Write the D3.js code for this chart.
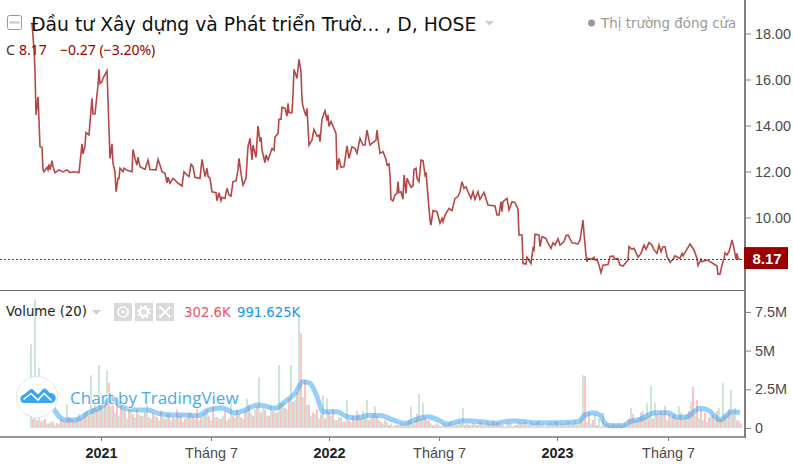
<!DOCTYPE html>
<html>
<head>
<meta charset="utf-8">
<script src="https://cdn.jsdelivr.net/npm/d3@7"></script>
<style>
  html, body { margin: 0; padding: 0; background: #fff; }
  svg { display: block; }
  text { font-family: "DejaVu Sans", sans-serif; }
  .axis text { font-family: "Liberation Sans", Arial, sans-serif; font-size: 14.4px; fill: #4a4a4a; }
  .axis .domain { display: none; }
  .axis .tick line { stroke: #808080; }
</style>
</head>
<body>
<div id="chart"></div>
<script>
// session number = trading days since the first bar
const priceSessions = [
  1, 3, 4, 5, 7, 8, 9, 11, 12, 13,
  16, 17, 18, 19, 21, 22, 24, 28, 32, 36,
  39, 42, 48, 51, 52, 54, 55, 58, 61, 62,
  64, 67, 68, 69, 71, 72, 76, 77, 79, 81,
  82, 84, 85, 87, 88, 89, 92, 93, 97, 101,
  102, 104, 106, 107, 109, 114, 117, 119, 125, 127,
  129, 131, 134, 136, 137, 139, 142, 144, 147, 151,
  153, 156, 158, 160, 162, 164, 169,
  171, 174, 176, 177, 179, 181, 185, 186, 188, 190,
  191, 194, 196, 198, 200, 202, 205, 207, 208, 210,
  212, 215, 217, 219, 221, 222, 225, 227, 229, 230,
  231, 234, 235, 237, 241, 243, 244, 247, 248, 250,
  251, 254, 256, 257, 258, 261, 262, 263, 266, 268,
  270, 271, 272, 275, 276, 278, 281, 283, 286, 288,
  289, 291, 294, 296, 297, 298, 300, 302, 305, 306,
  308, 310, 313, 316, 318, 321, 324, 326, 329, 332,
  334, 336, 339, 345, 346, 347,
  349, 352, 355, 356, 358, 359, 360, 362, 364, 366,
  367, 368, 370, 372, 373, 375, 376, 380, 382, 383,
  385, 386, 388, 390, 392, 394, 395, 397, 399, 400,
  402, 406, 409, 411, 412, 414, 418, 421, 424, 427,
  429, 431, 433, 435, 437, 440, 442, 444, 447, 449,
  453, 457, 464, 466, 468, 470, 471, 472, 476, 478,
  481, 484, 487, 488, 491, 492, 495, 496, 500, 502,
  503, 504, 508, 509, 511, 515, 517, 520, 522, 524,
  527, 529, 533, 535, 537, 541, 544, 547, 549, 552,
  553, 555, 556, 557, 560, 563, 564, 566, 568, 570,
  572, 577, 579, 582, 584, 587, 589, 592, 597, 598,
  601, 603, 605, 607, 610, 613, 615, 618, 621, 623,
  626, 628, 630, 632, 634, 636, 639, 642, 644, 649,
  651, 652, 659, 663, 666, 667, 670, 671, 676, 679,
  682, 686, 687, 689, 691, 693, 694, 696, 698, 701,
  703, 705, 706, 707, 709
];
const priceCloses = [
  18.46, 17.28, 16.41, 14.46, 15.25, 14.24, 13.08, 13.05, 12.07, 11.99,
  12.18, 12.07, 12.31, 12.07, 12.47, 12.21, 11.95, 12.07, 11.98, 12.07,
  11.95, 11.99, 11.95, 13.2, 12.76, 13.11, 13.69, 13.59, 15.18, 14.5,
  14.5, 15.76, 16.44, 15.83, 15.9, 16.05, 16.38, 15.11, 12.57, 13.2,
  12.36, 11.99, 11.12, 11.7, 11.7, 12.14, 11.99, 12.14, 12.04, 11.99,
  12.96, 12.57, 12.28, 12.62, 12.21, 12.09, 12.5, 12.09, 12.07, 12.53,
  12.28, 11.99, 11.92, 11.51, 11.75, 11.49, 11.7, 11.63, 11.49, 11.37,
  11.99, 11.85, 11.78, 12.31, 12.21, 11.75, 11.7,
  12.53, 11.78, 12.14, 11.8, 11.7, 11.12, 11.08, 10.73, 11.08, 10.73,
  10.88, 10.83, 11.27, 10.98, 10.93, 11.56, 11.59, 12.07, 12.57, 11.92,
  11.41, 11.7, 13.08, 13.44, 12.5, 13.15, 12.62, 13.98, 13.3, 13.49,
  12.93, 12.38, 12.72, 12.5, 13.0, 12.93, 13.5, 13.66, 14.27, 14.27,
  14.79, 14.75, 14.41, 14.96, 14.56, 14.56, 15.33, 16.44, 16.05, 16.88,
  16.34, 15.11, 14.82, 14.41, 14.75, 13.15, 13.37, 13.83, 13.54, 13.59,
  13.3, 14.27, 14.64, 14.21, 14.46, 13.96, 14.17, 13.98, 13.66, 12.07,
  12.57, 12.18, 12.21, 13.11, 12.57, 13.08, 13.0, 12.79, 13.44, 13.15,
  13.15, 13.8, 13.15, 13.37, 13.8, 13.4,
  12.79, 12.86, 12.53, 12.28, 12.33, 11.85, 10.79, 10.72, 10.98, 11.05,
  11.56, 11.08, 11.12, 10.79, 11.85, 11.05, 11.7, 11.31, 11.37, 12.09,
  12.14, 11.7, 11.56, 12.5, 12.47, 11.85, 11.96, 10.91, 9.89, 9.67,
  10.3, 10.25, 9.75, 9.96, 9.82, 10.11, 10.4, 10.3, 10.83, 10.91,
  11.12, 11.56, 11.27, 11.34, 11.12, 10.83, 11.12, 10.79, 11.12, 10.79,
  11.09, 10.54, 10.5, 10.11, 10.11, 10.69, 10.25, 10.69, 10.83, 10.33,
  10.69, 10.65, 10.36, 9.24, 9.24, 8.0, 7.98, 8.27, 8.0, 8.66,
  8.59, 9.27, 9.24, 8.73, 9.17, 9.09, 8.88, 8.66, 8.9, 8.8,
  9.07, 8.8, 8.95, 9.21, 9.24, 8.9, 8.88, 8.85, 9.02, 9.89,
  9.31, 8.37, 8.08, 8.22, 8.18, 8.27, 8.15, 8.18, 7.93, 7.6,
  7.93, 7.96, 8.3, 8.33, 8.18, 8.22, 7.93, 7.89, 8.15, 8.73,
  8.62, 8.66, 8.47, 8.27, 8.44, 8.8, 8.62, 8.91, 8.8, 8.59,
  8.44, 8.8, 8.51, 8.73, 8.73, 8.3, 8.05, 8.18, 8.33, 8.22,
  8.44, 8.33, 8.85, 8.59, 8.22, 7.91, 8.18, 8.08, 8.15, 8.08,
  8.0, 7.89, 7.54, 7.54, 7.93, 8.22, 8.47, 8.37, 8.51, 9.02,
  8.66, 8.18, 8.44, 8.22, 8.17
];

// volumes in millions, sampled every 4 sessions (down days sit 2 sessions after up days)
const upVolumes = [
  5.4, 8.3, 3.9, .5, .3, .4, .2, .3, .5, 1.5,
  .6, .4, .9, .7, 1.1, 3.4, 1.6, 4.07, 1.2, 3.7,
  1.4, 1.0, .8, 1.2, .6, 1.1, .7, .9, .8, 1.5,
  .6, .8, .5, .7, .9, .5, .6, .8, .4, .7,
  1.0, .6, .5, .9, 1.2, .5, .7, .6, .8, .5,
  1.9, .7, .9, .6, 1.9, 1.0, 1.2, 3.3, 1.3, .8,
  1.4, 1.0, 4.07, 1.6, 1.2, 4.07, 1.8, 7.4, 2.0, 1.5,
  .8, .9, .6, 2.1, 1.9, .8, .5, .7, .4, 1.8,
  .4, .5, .9, 1.1, 1.8, .6, 1.4, .5, .3, .4,
  .3, .2, .2, .3, .4, 1.4, .5, 2.2, 1.6, .5,
  .3, .2, .2, .3, .2, .4, .3, .5, 1.3, .3,
  .2, .3, .4, .3, .4, .2, .3, .4, .2, .3,
  .3, .2, .4, .3, .2, .4, .3, .5, .3, .2,
  .3, .4, .2, .3, .4, .2, .5, .3, 3.4, .4,
  .3, .9, .6, 1.0, .3, .2, .2, .3, .2, .2,
  1.3, .5, .7, 1.1, 1.6, 2.7, 1.6, .8, .9, .5,
  .7, .9, 1.4, .6, .9, 1.7, .8, .6, .5, .4,
  .8, .5, 1.3, 2.9, .9, 2.45, 1.3, .5
];
const downVolumes = [
  .6, .5, .4, .6, .3, .4, .3, .6, .4, .7,
  .5, .7, .6, 1.0, .8, 1.3, 1.2, 1.5, 1.7, 2.9,
  1.6, 2.0, 1.5, 1.1, 1.3, .9, 1.2, .8, 1.0, .7,
  1.0, .7, 1.1, .6, .9, .7, 1.2, .8, .6, 1.0,
  .8, 1.3, .7, 1.0, .8, 1.4, .7, .6, 1.1, .6,
  .8, 1.2, .7, 1.1, 1.5, .8, 1.4, 1.0, 1.2, .8,
  1.1, 1.0, 1.6, 1.3, 1.9, 1.7, 2.3, 6.1, 3.1, 1.5,
  1.0, 1.2, .9, .6, 1.0, 1.2, .5, .7, .4, .5,
  .8, 1.1, .6, .7, .5, .9, .8, .4, .5, .2,
  .1, .2, .3, .2, .5, .3, .9, .6, .7, .5,
  .2, .3, .1, .2, .3, .2, .2, .3, .2, .2,
  .3, .2, .4, .2, .3, .5, .4, .2, .1, .3,
  .1, .2, .3, .4, .2, .3, .4, .2, .1, .3,
  .2, .4, .3, .2, .4, .3, .2, .6, 3.35, 1.0,
  .5, .2, .1, .2, .2, .3, .2, .2, .3, .6,
  .9, .5, 1.0, .7, .8, .6, .9, 1.1, 1.4, .9,
  .8, .6, 1.0, .7, 1.1, 2.65, 1.8, 1.2, 1.0, .7,
  .9, 1.1, .6, .8, 1.2, .9, .5, .3
];

const maSessions = [
  20, 34, 44, 57, 71, 81, 87, 94, 107, 117, 127, 141, 154, 167, 177, 191, 204, 214, 227, 234, 244,
  254, 264, 272, 279, 286, 292, 306, 316, 326, 337, 349, 362, 374, 384, 397, 407, 416, 431, 451,
  464, 474, 484, 507, 524, 547, 554, 562, 569, 574, 581, 591, 599, 609, 624, 637, 646, 656, 669,
  677, 689, 701, 709
];
const maVolumes = [
  1.5, .52, .52, .97, 1.38, 1.94, 1.55, 1.27, 1.16, 1.16, .95, .84, .84, .79, 1.16, 1.29, .97, 1.16, 1.49, 1.42, 1.27,
  1.7, 2.24, 2.99, 2.89, 2.02, 1.05, 1.05, .73, .65, .8, .8, .52, .3, .52, .73, .52, .26, .47, .41,
  .3, .41, .45, .34, .34, .41, .84, .99, .84, .3, .15, .15, .41, .56, .99, .99, .69, .73, 1.27,
  1.16, .52, 1.05, 1.0
];

const timeTicks = [70, 180, 298, 408, 526, 637];
const timeLabels = ['2021', 'Tháng 7', '2022', 'Tháng 7', '2023', 'Tháng 7'];
const priceTicks = [8, 10, 12, 14, 16, 18];
const volumeTicks = [0, 2.5, 5, 7.5];
const volumeTickLabels = ['0', '2.5M', '5M', '7.5M'];
const lastClose = 8.17;

const width = 793;
const height = 468;
const axisX = 745;
const paneBottom = 290;
const plotBottom = 437;

const x = d3.scaleLinear().domain([0, 714]).range([31, axisX]);
const yPrice = d3.scaleLinear().domain([6.848, 19.457]).range([paneBottom, 0]);
const yVolume = d3.scaleLinear().domain([0, 8.915]).range([428, paneBottom]);

const svg = d3.select('#chart')
  .append('svg')
  .attr('width', width)
  .attr('height', height);

// volume bars
function drawBars(values, offset, color) {
  svg.append('g')
    .selectAll('rect')
    .data(values)
    .enter()
    .append('rect')
    .attr('x', (d, i) => x(i * 4 + offset) - 1)
    .attr('width', 2)
    .attr('y', d => yVolume(d))
    .attr('height', d => yVolume(0) - yVolume(d))
    .attr('fill', color);
}
drawBars(upVolumes, 0, '#cbe8d7');
drawBars(downVolumes, 2, '#fbc4c8');

// volume average
const maLine = d3.line()
  .x(d => x(d[0]))
  .y(d => yVolume(d[1]))
  .curve(d3.curveMonotoneX);

svg.append('path')
  .datum(d3.zip(maSessions, maVolumes))
  .attr('d', maLine)
  .attr('fill', 'none')
  .attr('stroke', '#2f9ff5')
  .attr('stroke-opacity', 0.5)
  .attr('stroke-width', 5)
  .attr('stroke-linejoin', 'round');

// watermark
const mark = svg.append('g');
mark.append('circle')
  .attr('cx', 37).attr('cy', 397).attr('r', 20.5)
  .attr('fill', '#fff').attr('stroke', '#e4e4e4');
mark.append('path')
  .attr('d', 'M23 403 a4.5 4.5 0 0 1 1 -8.5 l6 -5 q1.5 -1 3 0 l5 5 l5 -5.5 q1.5 -1 3 0 l4 4 a4.8 4.8 0 0 1 1.5 9.9 z')
  .attr('fill', '#3ba5f2');
mark.append('path')
  .attr('d', 'M23.5 399.5 l7.5 -6 l7 6.5 l6 -6.5 l7.5 7')
  .attr('fill', 'none').attr('stroke', '#fff').attr('stroke-width', 1.6);
mark.append('text')
  .attr('x', 70).attr('y', 404)
  .style('font-family', '"Open Sans", sans-serif')
  .style('font-size', '17px')
  .style('font-weight', '500')
  .attr('fill', '#4ba9f0')
  .attr('stroke', '#fff').attr('stroke-width', 2.5).attr('stroke-opacity', 0.6)
  .attr('paint-order', 'stroke')
  .text('Chart by TradingView');

// frame
const frame = svg.append('g').attr('stroke', '#777');
frame.append('line').attr('x1', 0).attr('x2', axisX).attr('y1', paneBottom + 0.5).attr('y2', paneBottom + 0.5).attr('stroke', '#666');
frame.append('line').attr('x1', 0).attr('x2', axisX).attr('y1', plotBottom).attr('y2', plotBottom).attr('stroke-width', 1.5);
frame.append('line').attr('x1', axisX).attr('x2', axisX).attr('y1', 0).attr('y2', plotBottom + 1).attr('stroke', '#808080').attr('stroke-width', 2);

// axes
const priceAxis = d3.axisRight(yPrice)
  .tickValues(priceTicks)
  .tickFormat(d3.format('.2f'))
  .tickSize(6)
  .tickPadding(4);
svg.append('g').attr('class', 'axis').attr('transform', `translate(${axisX},0)`).call(priceAxis);

const volumeAxis = d3.axisRight(yVolume)
  .tickValues(volumeTicks)
  .tickFormat((d, i) => volumeTickLabels[i])
  .tickSize(6)
  .tickPadding(4);
svg.append('g').attr('class', 'axis').attr('transform', `translate(${axisX},0)`).call(volumeAxis);

const timeAxis = d3.axisBottom(x)
  .tickValues(timeTicks)
  .tickFormat((d, i) => timeLabels[i])
  .tickSize(4)
  .tickPadding(7);
svg.append('g').attr('class', 'axis').attr('transform', `translate(0,${plotBottom})`).call(timeAxis)
  .selectAll('text')
  .style('font-weight', (d, i) => i % 2 === 0 ? 'bold' : 'normal')
  .style('fill', (d, i) => i % 2 === 0 ? '#222' : '#4a4a4a');

// header texts
const header = svg.append('g');
header.append('rect').attr('x', 7.5).attr('y', 15.5).attr('width', 14).attr('height', 14).attr('rx', 2)
  .attr('fill', '#fff').attr('stroke', '#999');
header.append('rect').attr('x', 9.5).attr('y', 21.5).attr('width', 10).attr('height', 2).attr('fill', '#c4c4c4');
header.append('text').attr('x', 31).attr('y', 31)
  .style('font-size', '18.8px').attr('fill', '#111')
  .text('Đầu tư Xây dựng và Phát triển Trườ... , D, HOSE');
header.append('path').attr('d', 'M485 21 h9 l-4.5 4.5 z').attr('fill', '#ccc');
header.append('circle').attr('cx', 591.5).attr('cy', 23).attr('r', 3.5).attr('fill', '#999');
header.append('text').attr('x', 601).attr('y', 28)
  .style('font-size', '13.4px').attr('fill', '#999')
  .text('Thị trường đóng cửa');
const quoteFont = '"Noto Sans", sans-serif';
header.append('text').attr('x', 6).attr('y', 55).style('font-family', quoteFont).style('font-size', '14px').attr('fill', '#333').text('C');
header.append('text').attr('x', 19).attr('y', 55).style('font-family', quoteFont).style('font-size', '14px').attr('fill', '#990000').text('8.17');
header.append('text').attr('x', 60).attr('y', 55).style('font-family', quoteFont).style('font-size', '14px').attr('fill', '#990000').text('−0.27 (−3.20%)');

// volume legend
const legend = svg.append('g');
legend.append('text').attr('x', 6).attr('y', 316).style('font-size', '13.3px').attr('fill', '#222').text('Volume (20)');
legend.append('path').attr('d', 'M92 310 h9 l-4.5 4.5 z').attr('fill', '#ccc');
[114, 135, 156].forEach(bx => {
  legend.append('rect').attr('x', bx).attr('y', 303).attr('width', 18).attr('height', 18).attr('fill', '#dadada');
});
legend.append('circle').attr('cx', 123).attr('cy', 312).attr('r', 5).attr('fill', 'none').attr('stroke', '#fff').attr('stroke-width', 1.6);
legend.append('circle').attr('cx', 123).attr('cy', 312).attr('r', 1.8).attr('fill', '#fff');
legend.append('circle').attr('cx', 144).attr('cy', 312).attr('r', 4).attr('fill', 'none').attr('stroke', '#fff').attr('stroke-width', 2.4);
legend.append('circle').attr('cx', 144).attr('cy', 312).attr('r', 6).attr('fill', 'none').attr('stroke', '#fff').attr('stroke-width', 1.8).attr('stroke-dasharray', '2.2 2.5');
legend.append('path').attr('d', 'M159.5 306.5 l11 11 M170.5 306.5 l-11 11').attr('stroke', '#fff').attr('stroke-width', 2);
legend.append('text').attr('x', 184).attr('y', 317).style('font-size', '13.3px').attr('fill', '#ef5362').text('302.6K');
legend.append('text').attr('x', 237).attr('y', 317).style('font-size', '13.2px').attr('fill', '#2196f3').text('991.625K');

// last close marker
svg.append('line')
  .attr('x1', 0).attr('x2', axisX)
  .attr('y1', Math.round(yPrice(lastClose)) - 0.5).attr('y2', Math.round(yPrice(lastClose)) - 0.5)
  .attr('stroke', '#b01818').attr('stroke-dasharray', '2 2');

// price line
const priceLine = d3.line()
  .x(d => x(d[0]))
  .y(d => yPrice(d[1]));

svg.append('path')
  .datum(d3.zip(priceSessions, priceCloses))
  .attr('d', priceLine)
  .attr('fill', 'none')
  .attr('stroke', '#990000')
  .attr('stroke-opacity', 0.72)
  .attr('stroke-width', 1.6);

// price tag
svg.append('rect')
  .attr('x', axisX - 1).attr('y', yPrice(lastClose) - 12.5)
  .attr('width', 44).attr('height', 22)
  .attr('fill', '#990000');
svg.append('text')
  .attr('x', 767).attr('y', yPrice(lastClose) + 4)
  .attr('text-anchor', 'middle')
  .style('font-family', '"Liberation Sans", Arial, sans-serif')
  .style('font-size', '15px')
  .style('font-weight', 'bold')
  .attr('fill', '#fff')
  .text(d3.format('.2f')(lastClose));
</script>
</body>
</html>
